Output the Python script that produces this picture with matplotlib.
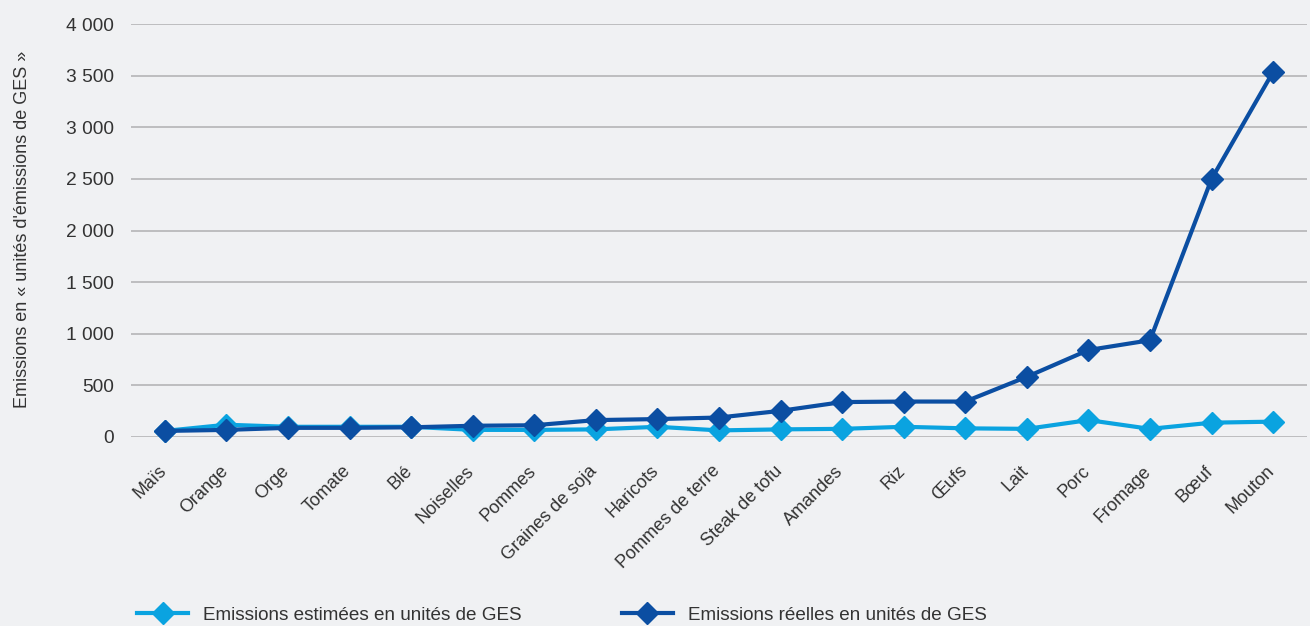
import matplotlib.pyplot as plt
from matplotlib.ticker import FuncFormatter
from matplotlib.transforms import ScaledTranslation

plt.rcParams['font.family'] = ['Liberation Sans', 'DejaVu Sans']

# données
aliments = ['Maïs', 'Orange', 'Orge', 'Tomate', 'Blé', 'Noiselles', 'Pommes',
            'Graines de soja', 'Haricots', 'Pommes de terre', 'Steak de tofu',
            'Amandes', 'Riz', 'Œufs', 'Lait', 'Porc', 'Fromage', 'Bœuf', 'Mouton']
estimees = [55, 115, 95, 95, 95, 65, 65, 70, 95, 60, 70, 75, 95, 80, 75, 160, 75, 135, 145]
reelles = [55, 65, 85, 85, 90, 105, 110, 160, 170, 185, 250, 335, 340, 340, 580, 840, 935, 2500, 3540]
yticks = [0, 500, 1000, 1500, 2000, 2500, 3000, 3500, 4000]

bg = '#f0f1f3'
clair = '#0aa3e0'
fonce = '#0b4ea2'
gris_texte = '#333333'

fig = plt.figure(figsize=(13.1, 6.26), dpi=100, facecolor=bg)
ax = fig.add_axes([131 / 1310, 1 - 437 / 626, 1176 / 1310, 413 / 626])
ax.set_facecolor(bg)

x = range(len(aliments))
ax.plot(x, estimees, color=clair, lw=3, marker='D', ms=11,
        label='Emissions estimées en unités de GES', clip_on=False, zorder=3)
ax.plot(x, reelles, color=fonce, lw=3, marker='D', ms=11,
        label='Emissions réelles en unités de GES', clip_on=False, zorder=4)

ax.set_xlim(-0.55, len(aliments) - 0.45)
ax.set_ylim(-4, 4004)
ax.set_yticks(yticks)
ax.yaxis.set_major_formatter(FuncFormatter(lambda v, p: f'{int(v):,}'.replace(',', ' ')))
ax.grid(axis='y', color='#b4b4b6', lw=1.2)
ax.set_axisbelow(True)
for s in ax.spines.values():
    s.set_visible(False)
ax.tick_params(length=0, labelsize=13.8, labelcolor=gris_texte)
ax.tick_params(axis='y', pad=12)

ax.set_xticks(list(x))
ax.set_xticklabels(aliments, rotation=45, ha='right', va='baseline',
                   rotation_mode='anchor', fontsize=13, color=gris_texte)
ax.tick_params(axis='x', pad=25)
decalage = ScaledTranslation(1.5 / 72, 0, fig.dpi_scale_trans)
for lab in ax.get_xticklabels():
    lab.set_transform(lab.get_transform() + decalage)

fig.text(23 / 1310, 1 - 229 / 626, "Emissions en « unités d'émissions de GES »",
         rotation=90, ha='center', va='center', fontsize=13, color=gris_texte)

fig.legend(loc='center left', bbox_to_anchor=(137 / 1310, 1 - 615 / 626), ncol=2,
           frameon=False, fontsize=13.6, handlelength=2.7, handletextpad=0.8,
           columnspacing=5.3, labelcolor=gris_texte, borderaxespad=0, borderpad=0)

fig.savefig('out.png', dpi=100, facecolor=bg)
